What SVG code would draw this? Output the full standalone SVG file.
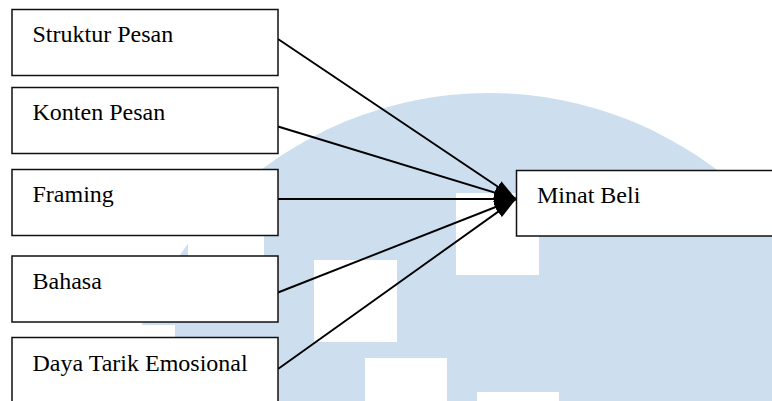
<svg xmlns="http://www.w3.org/2000/svg" width="772" height="401" viewBox="0 0 772 401">
  <style>
    .mark { fill: #cddfee; }
    .hole { fill: #ffffff; }
    .box { fill: #ffffff; stroke: #111111; stroke-width: 1.5; }
    .lbl { font-family: "Liberation Serif", "Times New Roman", serif; font-size: 24px; fill: #000000; }
    .link { stroke: #000000; stroke-width: 1.9; fill: none; marker-end: url(#arrow); }
  </style>
  <defs>
    <marker id="arrow" markerUnits="userSpaceOnUse" viewBox="0 0 22 14" markerWidth="22" markerHeight="14" refX="22" refY="7" orient="auto">
      <path d="M0,0.5 L22,7 L0,13.5 Z" fill="#000000"/>
    </marker>
  </defs>

  <rect width="772" height="401" fill="#ffffff"/>

  <!-- background emblem: pale disc with square cut-outs -->
  <g id="emblem">
    <circle class="mark" cx="489" cy="469" r="376"/>
    <rect class="hole" x="314" y="260" width="83" height="82"/>
    <rect class="hole" x="456" y="193" width="83" height="82"/>
    <rect class="hole" x="365" y="358" width="82" height="82"/>
    <rect class="hole" x="477" y="392" width="82" height="82"/>
    <rect class="hole" x="188" y="178" width="76" height="82"/>
    <rect class="hole" x="92" y="325" width="83" height="83"/>
  </g>

  <!-- connectors -->
  <g id="connectors">
    <line class="link" x1="278" y1="39" x2="516" y2="199"/>
    <line class="link" x1="278" y1="126.5" x2="516" y2="199"/>
    <line class="link" x1="278" y1="199" x2="516" y2="199"/>
    <line class="link" x1="278" y1="292.5" x2="516" y2="199"/>
    <line class="link" x1="278" y1="369" x2="516" y2="199"/>
  </g>

  <g id="struktur-pesan">
    <rect class="box" x="12" y="9.5" width="266" height="66"/>
    <text class="lbl" x="32.5" y="42">Struktur Pesan</text>
  </g>
  <g id="konten-pesan">
    <rect class="box" x="12" y="87.5" width="266" height="66"/>
    <text class="lbl" x="32.5" y="120">Konten Pesan</text>
  </g>
  <g id="framing">
    <rect class="box" x="12" y="169.5" width="266" height="66"/>
    <text class="lbl" x="32.5" y="201.5">Framing</text>
  </g>
  <g id="bahasa">
    <rect class="box" x="12" y="256" width="266" height="66"/>
    <text class="lbl" x="32.5" y="289">Bahasa</text>
  </g>
  <g id="daya-tarik-emosional">
    <rect class="box" x="12" y="337.5" width="266" height="80"/>
    <text class="lbl" x="32.5" y="371">Daya Tarik Emosional</text>
  </g>
  <g id="minat-beli">
    <rect class="box" x="516.5" y="170.5" width="280" height="65.5"/>
    <text class="lbl" x="537" y="202.5">Minat Beli</text>
  </g>
</svg>
